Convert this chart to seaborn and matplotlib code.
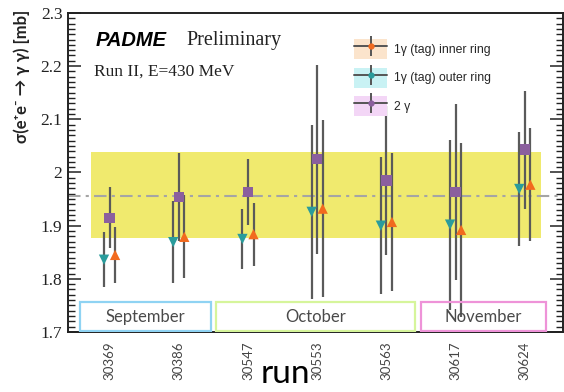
import matplotlib
matplotlib.use("Agg")
import numpy as np
import pandas as pd
import matplotlib.pyplot as plt
import seaborn as sns
from matplotlib.patches import Patch, Rectangle
from matplotlib.lines import Line2D
from matplotlib.legend_handler import HandlerTuple
from matplotlib.ticker import MultipleLocator, FixedLocator

# ---- measured cross sections per run ----
runs = ["30369", "30386", "30547", "30553", "30563", "30617", "30624"]
inner_ring = [1.845, 1.879, 1.884, 1.932, 1.907, 1.892, 1.977]
inner_ring_err = [0.053, 0.078, 0.059, 0.167, 0.130, 0.163, 0.106]
outer_ring = [1.836, 1.869, 1.875, 1.926, 1.900, 1.902, 1.969]
outer_ring_err = [0.052, 0.077, 0.057, 0.163, 0.129, 0.160, 0.107]
two_gamma = [1.915, 1.954, 1.963, 2.025, 1.985, 1.963, 2.043]
two_gamma_err = [0.057, 0.082, 0.062, 0.178, 0.140, 0.166, 0.111]

# average and its uncertainty band
average = 1.955
band_low, band_high = 1.877, 2.038

months = ["September", "October", "November"]
month_spans = [(-0.42, 1.46), (1.54, 4.42), (4.50, 6.30)]
month_colors = ["#8fd3f3", "#d6f59b", "#ee93d8"]

series_names = ["1\u03b3 (tag) inner ring", "1\u03b3 (tag) outer ring", "2 \u03b3"]
series_colors = {"1\u03b3 (tag) inner ring": "#f26a1e",
                 "1\u03b3 (tag) outer ring": "#2a9c9c",
                 "2 \u03b3": "#8b5f9e"}
series_fill = {"1\u03b3 (tag) inner ring": "#fbe4cc",
               "1\u03b3 (tag) outer ring": "#c9f2f4",
               "2 \u03b3": "#f3d6f6"}
series_markers = {"1\u03b3 (tag) inner ring": "^",
                  "1\u03b3 (tag) outer ring": "v",
                  "2 \u03b3": "s"}
series_offsets = {"1\u03b3 (tag) inner ring": 0.08,
                  "1\u03b3 (tag) outer ring": -0.08,
                  "2 \u03b3": 0.0}

rows = []
for name, vals, errs in zip(series_names,
                            [inner_ring, outer_ring, two_gamma],
                            [inner_ring_err, outer_ring_err, two_gamma_err]):
    for i, (v, e) in enumerate(zip(vals, errs)):
        rows.append({"pos": i + series_offsets[name], "xsec": v, "err": e, "sample": name})
df = pd.DataFrame(rows)

sns.set_theme(style="ticks")
plt.rcParams["font.family"] = ["Liberation Serif", "DejaVu Serif"]

fig = plt.figure(figsize=(5.64, 3.92), dpi=100)
ax = fig.add_axes([0.1206, 0.153, 0.8774, 0.814])

# uncertainty band and average line
ax.fill_between([-0.27, 6.24], band_low, band_high, color="#f0ea6e", lw=0, zorder=0)
ax.axhline(average, color="#a5a5a5", lw=1.5, ls=(0, (6, 2.5, 1.5, 2.5)), zorder=1)

# error bars
for name in series_names:
    sub = df[df["sample"] == name]
    ax.errorbar(sub["pos"], sub["xsec"], yerr=sub["err"], fmt="none",
                ecolor="#5a5a5a", elinewidth=1.6, capsize=0, zorder=2)

# markers
sns.scatterplot(data=df, x="pos", y="xsec", hue="sample", style="sample",
                palette=series_colors, markers=series_markers,
                hue_order=series_names, style_order=series_names,
                s=55, linewidth=0, legend=False, ax=ax, zorder=3)

# month boxes
for name, (x0, x1), col in zip(months, month_spans, month_colors):
    ax.add_patch(Rectangle((x0, 1.7025), x1 - x0, 0.0545, fill=False,
                           edgecolor=col, lw=1.6, zorder=4))
    ax.text((x0 + x1) / 2, 1.729, name, ha="center", va="center",
            fontsize=12, color="#4a4a4a", family=["Lato", "DejaVu Sans"], zorder=5)

ax.set_xlim(-0.6, 6.55)
ax.set_ylim(1.7, 2.3)
ax.set_xticks(range(len(runs)))
ax.set_xticklabels(runs, rotation=90, fontsize=9.5, color="#444444",
                   family=["Lato", "DejaVu Sans"])
ytick_values = [1.7, 1.8, 1.9, 2.0, 2.1, 2.2, 2.3]
ax.yaxis.set_major_locator(FixedLocator(ytick_values))
ax.set_yticklabels(["%g" % v for v in ytick_values], fontsize=12.5)
ax.yaxis.set_minor_locator(MultipleLocator(0.01))
ax.tick_params(axis="y", which="major", direction="in", length=9.5, width=1.1,
               left=True, right=True, pad=4, colors="#222222")
ax.tick_params(axis="y", which="minor", direction="in", length=5, width=1.0,
               left=True, right=True, colors="#222222")
ax.tick_params(axis="x", length=0, pad=7)
ax.set_xlabel("")
ax.set_ylabel("")
for sp in ax.spines.values():
    sp.set_visible(True)
    sp.set_linewidth(1.4)
    sp.set_color("#222222")

# legend with shaded handles
handles = []
for name in series_names:
    handles.append((Patch(facecolor=series_fill[name], edgecolor="none"),
                    Line2D([], [], color="#555555", lw=1.4, marker="|",
                           markersize=14, markeredgewidth=1.4),
                    Line2D([], [], ls="none", marker="o", markersize=3.5,
                           color=series_colors[name])))
ax.legend(handles, series_names, handler_map={tuple: HandlerTuple(ndivide=1, pad=0)},
          loc="upper left", bbox_to_anchor=(0.578, 0.918), frameon=False,
          prop={"family": ["Liberation Sans", "DejaVu Sans"], "size": 8.8},
          handlelength=2.7, handleheight=2.15, labelspacing=0.69,
          handletextpad=0.55, borderaxespad=0, borderpad=0)

# headline texts
ax.text(0.055, 0.913, "PADME", transform=ax.transAxes, fontsize=14.5,
        fontweight="bold", fontstyle="italic", family=["Liberation Sans"],
        va="center", ha="left", color="black")
ax.text(0.24, 0.913, "Preliminary", transform=ax.transAxes, fontsize=14.5,
        va="center", ha="left", color="#222222")
ax.text(0.052, 0.816, "Run II, E=430 MeV", transform=ax.transAxes, fontsize=12.5,
        va="center", ha="left", color="#222222")

fig.text(22 / 564, 1 - 10 / 392, "\u03c3(e\u207ae\u207b \u2192 \u03b3 \u03b3) [mb]",
         rotation=90, ha="center", va="top", fontsize=12, fontweight="bold",
         family=["Lato", "DejaVu Sans"], color="#222222")
fig.text(285 / 564, 3 / 392, "run", ha="center", va="bottom", fontsize=24,
         family=["Lato", "DejaVu Sans"], color="black")

fig.savefig("out.png", dpi=100)
